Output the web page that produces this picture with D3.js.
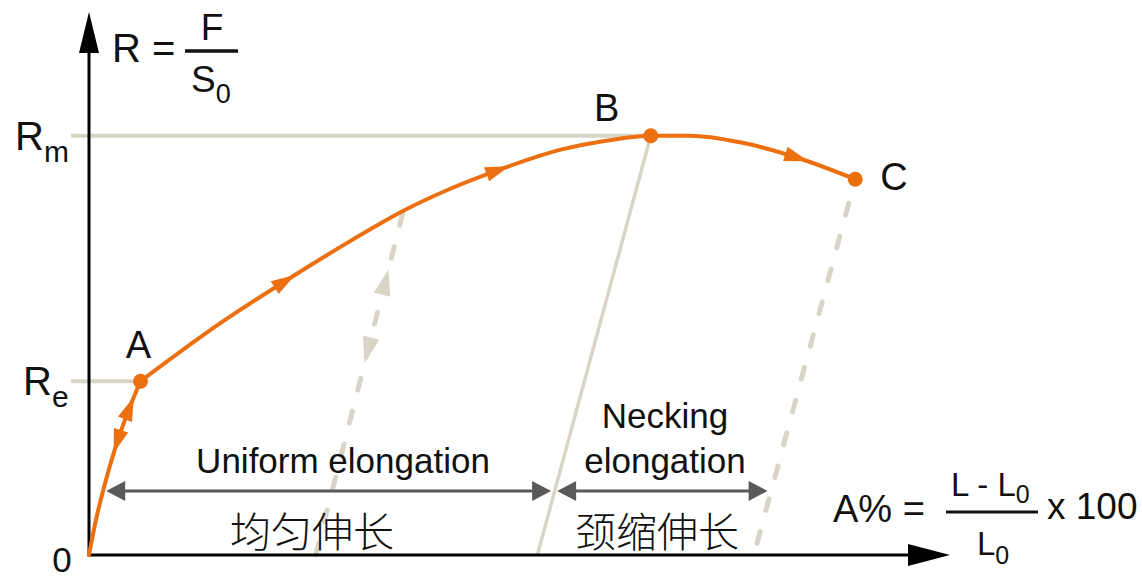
<!DOCTYPE html>
<html>
<head>
<meta charset="utf-8">
<script src="https://cdn.jsdelivr.net/npm/d3@7"></script>
<style>
  html, body { margin: 0; padding: 0; background: #ffffff; }
  svg { display: block; }
  text { font-family: "Liberation Sans", Arial, sans-serif; fill: #111; }
  .zh { font-family: "Noto Sans CJK SC", sans-serif; font-weight: 300; }
</style>
</head>
<body>
<svg id="chart" width="1142" height="579"></svg>
<script>
// Engineering stress–strain curve (schematic): strain in %, stress in MPa
const strain = [0, 0.4, 0.9, 1.5, 2.2, 3.0, 7.6, 12.1, 15.2, 18.3, 21.0, 24.1, 27.4, 30.3, 32.7, 35.0, 37.9, 41.2, 44.6];
const stress = [0, 32, 64, 97, 129, 160, 213, 259, 289, 317, 337, 356, 373, 382, 386, 386, 380, 366, 346];

// Characteristic points: A = yield, B = ultimate, C = fracture
const pointNames = ["A", "B", "C"];
const pointStrain = [3.0, 32.7, 44.6];
const pointStress = [160, 386, 346];

// Stress levels marked on the vertical axis
const yTickBase = ["R", "R"];
const yTickSub = ["m", "e"];
const yTickStress = [386, 160];

// Unloading lines (elastic recovery) from the curve down to the strain axis
const unloadTopStrain = [18.3, 32.7, 44.6];
const unloadTopStress = [317, 386, 346];
const unloadBottomStrain = [13.2, 26.1, 38.7];
const unloadDashed = [true, false, true];

// Direction arrows along the curve (+1 loading, -1 unloading)
const curveArrowStrain = [1.65, 2.35, 11.4, 23.8, 41.2];
const curveArrowDir = [-1, 1, 1, 1, 1];

// Elongation ranges
const elongStart = [1.0, 27.25];
const elongEnd = [26.9, 39.5];
const elongStress = 59;
const elongLabelEn = [["Uniform elongation"], ["Necking", "elongation"]];
const elongLabelZh = ["均匀伸长", "颈缩伸长"];

const ORANGE = "#EC6F10";
const BEIGE = "#D9D5C6";
const ARROW_GREY = "#58595B";

const svg = d3.select("#chart");
const x = d3.scaleLinear().domain([0, 50]).range([89, 948]);
const y = d3.scaleLinear().domain([0, 500]).range([555, 12]);

function triangle(cx, cy, angle, len, wid) {
  const pts = [[len / 2, 0], [-len / 2, -wid / 2], [-len / 2, wid / 2]];
  const c = Math.cos(angle), s = Math.sin(angle);
  return pts.map(([px, py]) => [cx + px * c - py * s, cy + px * s + py * c]);
}
function drawTri(g, pts, fill) {
  g.append("polygon").attr("points", pts.map(p => p.join(",")).join(" ")).attr("fill", fill);
}

// Reference lines for Rm and Re
const refG = svg.append("g");
yTickStress.forEach((v, i) => {
  const endStrain = i === 0 ? pointStrain[1] : pointStrain[0];
  refG.append("line")
    .attr("x1", 71).attr("x2", x(endStrain))
    .attr("y1", y(v)).attr("y2", y(v))
    .attr("stroke", BEIGE).attr("stroke-width", 4);
});

// Unloading lines
const unloadG = svg.append("g");
unloadTopStrain.forEach((s, i) => {
  const ln = unloadG.append("line")
    .attr("x1", x(s)).attr("y1", y(unloadTopStress[i]))
    .attr("x2", x(unloadBottomStrain[i])).attr("y2", y(0))
    .attr("stroke", BEIGE);
  if (unloadDashed[i]) {
    ln.attr("stroke-width", 5).attr("stroke-linecap", "round")
      .attr("stroke-dasharray", "12 22").attr("stroke-dashoffset", i === 0 ? -3 : -25);
  } else {
    ln.attr("stroke-width", 3.5);
  }
});
// Loading/unloading arrows on the first unloading line
{
  const x1 = x(unloadTopStrain[0]), y1 = y(unloadTopStress[0]);
  const x2 = x(unloadBottomStrain[0]), y2 = y(0);
  const ang = Math.atan2(y2 - y1, x2 - x1);
  [[0.207, ang + Math.PI], [0.405, ang]].forEach(([t, a]) => {
    drawTri(unloadG, triangle(x1 + (x2 - x1) * t, y1 + (y2 - y1) * t, a, 26, 17), BEIGE);
  });
}

// Axes
const axisG = svg.append("g");
axisG.append("line").attr("x1", x(0)).attr("y1", y(0)).attr("x2", x(0)).attr("y2", 50)
  .attr("stroke", "#000").attr("stroke-width", 3);
axisG.append("line").attr("x1", x(0) - 1.5).attr("y1", y(0)).attr("x2", 912).attr("y2", y(0))
  .attr("stroke", "#000").attr("stroke-width", 3);
drawTri(axisG, [[x(0), 12], [x(0) - 10, 53], [x(0) + 10, 53]], "#000");
drawTri(axisG, [[950, y(0)], [908, y(0) - 11], [908, y(0) + 11]], "#000");

// Elongation dimension arrows
const dimG = svg.append("g");
elongStart.forEach((s, i) => {
  const xa = x(s), xb = x(elongEnd[i]), yy = y(elongStress);
  dimG.append("line").attr("x1", xa + 10).attr("x2", xb - 10).attr("y1", yy).attr("y2", yy)
    .attr("stroke", ARROW_GREY).attr("stroke-width", 3);
  drawTri(dimG, [[xa, yy], [xa + 19, yy - 10], [xa + 19, yy + 10]], ARROW_GREY);
  drawTri(dimG, [[xb, yy], [xb - 19, yy - 10], [xb - 19, yy + 10]], ARROW_GREY);
});

// Stress-strain curve: elastic part up to A, then plastic part A -> C
const curveData = strain.map((s, i) => [s, stress[i]]);
const iA = strain.indexOf(pointStrain[0]);
const segments = [curveData.slice(0, iA + 1), curveData.slice(iA)];
const line = d3.line().x(d => x(d[0])).y(d => y(d[1])).curve(d3.curveMonotoneX);
const curveG = svg.append("g");
const paths = segments.map(seg => curveG.append("path").datum(seg).attr("d", line)
  .attr("fill", "none").attr("stroke", ORANGE).attr("stroke-width", 4)
  .attr("stroke-linejoin", "round").attr("stroke-linecap", "round").node());

// Arrowheads along the curve
function lengthAtX(node, px) {
  let lo = 0, hi = node.getTotalLength();
  for (let k = 0; k < 40; k++) {
    const mid = (lo + hi) / 2;
    if (node.getPointAtLength(mid).x < px) lo = mid; else hi = mid;
  }
  return (lo + hi) / 2;
}
curveArrowStrain.forEach((s, i) => {
  const node = s <= pointStrain[0] ? paths[0] : paths[1];
  const total = node.getTotalLength();
  const L = lengthAtX(node, x(s));
  const p = node.getPointAtLength(L);
  const p0 = node.getPointAtLength(Math.max(0, L - 2));
  const p1 = node.getPointAtLength(Math.min(total, L + 2));
  let ang = Math.atan2(p1.y - p0.y, p1.x - p0.x);
  if (curveArrowDir[i] < 0) ang += Math.PI;
  drawTri(curveG, triangle(p.x, p.y, ang, 24, 15), ORANGE);
});

// Characteristic points
svg.append("g").selectAll("circle").data(pointStrain).join("circle")
  .attr("cx", d => x(d)).attr("cy", (d, i) => y(pointStress[i])).attr("r", 7.5)
  .attr("fill", ORANGE);

// Point labels
const ptLabelDx = [-2, -44, 25];
const ptLabelDy = [-23, -15, 11];
const ptAnchor = ["middle", "middle", "start"];
pointNames.forEach((n, i) => {
  svg.append("text").attr("x", x(pointStrain[i]) + ptLabelDx[i]).attr("y", y(pointStress[i]) + ptLabelDy[i])
    .attr("text-anchor", ptAnchor[i]).attr("font-size", 38).text(n);
});

// Vertical axis stress labels
yTickStress.forEach((v, i) => {
  const t = svg.append("text").attr("x", i === 0 ? 15 : 23).attr("y", y(v) + 14).attr("font-size", 40);
  t.append("tspan").text(yTickBase[i]);
  t.append("tspan").attr("font-size", 30).attr("dy", 12).text(yTickSub[i]);
});
svg.append("text").attr("x", 62).attr("y", 572).attr("text-anchor", "middle").attr("font-size", 35).text("0");

// Elongation labels
const enCenters = [343, 665];
elongLabelEn.forEach((lines, i) => {
  lines.forEach((ln, j) => {
    svg.append("text").attr("x", enCenters[i]).attr("y", 473 - (lines.length - 1 - j) * 45)
      .attr("text-anchor", "middle").attr("font-size", 35).text(ln);
  });
});
const zhCenters = [312, 657];
elongLabelZh.forEach((t, i) => {
  svg.append("text").attr("class", "zh").attr("x", zhCenters[i]).attr("y", 547)
    .attr("text-anchor", "middle").attr("font-size", 41).text(t);
});

// Stress definition R = F / S0
svg.append("text").attr("x", 112).attr("y", 62).attr("font-size", 40).text("R =");
svg.append("line").attr("x1", 185).attr("x2", 238).attr("y1", 51).attr("y2", 51)
  .attr("stroke", "#111").attr("stroke-width", 3.5);
svg.append("text").attr("x", 212).attr("y", 40).attr("text-anchor", "middle").attr("font-size", 37).text("F");
{
  const t = svg.append("text").attr("x", 191).attr("y", 92).attr("font-size", 37);
  t.append("tspan").text("S");
  t.append("tspan").attr("font-size", 27).attr("dy", 11).text("0");
}

// Elongation definition A% = (L - L0) / L0 × 100
svg.append("text").attr("x", 833).attr("y", 522).attr("font-size", 38).text("A% =");
svg.append("line").attr("x1", 946).attr("x2", 1038).attr("y1", 512).attr("y2", 512)
  .attr("stroke", "#111").attr("stroke-width", 3);
{
  const t = svg.append("text").attr("x", 951).attr("y", 496).attr("font-size", 33);
  t.append("tspan").text("L - L");
  t.append("tspan").attr("font-size", 25).attr("dy", 7).text("0");
  const d = svg.append("text").attr("x", 977).attr("y", 555).attr("font-size", 33);
  d.append("tspan").text("L");
  d.append("tspan").attr("font-size", 25).attr("dy", 9).text("0");
}
svg.append("text").attr("x", 1047).attr("y", 519).attr("font-size", 37).text("x 100");
</script>
</body>
</html>
